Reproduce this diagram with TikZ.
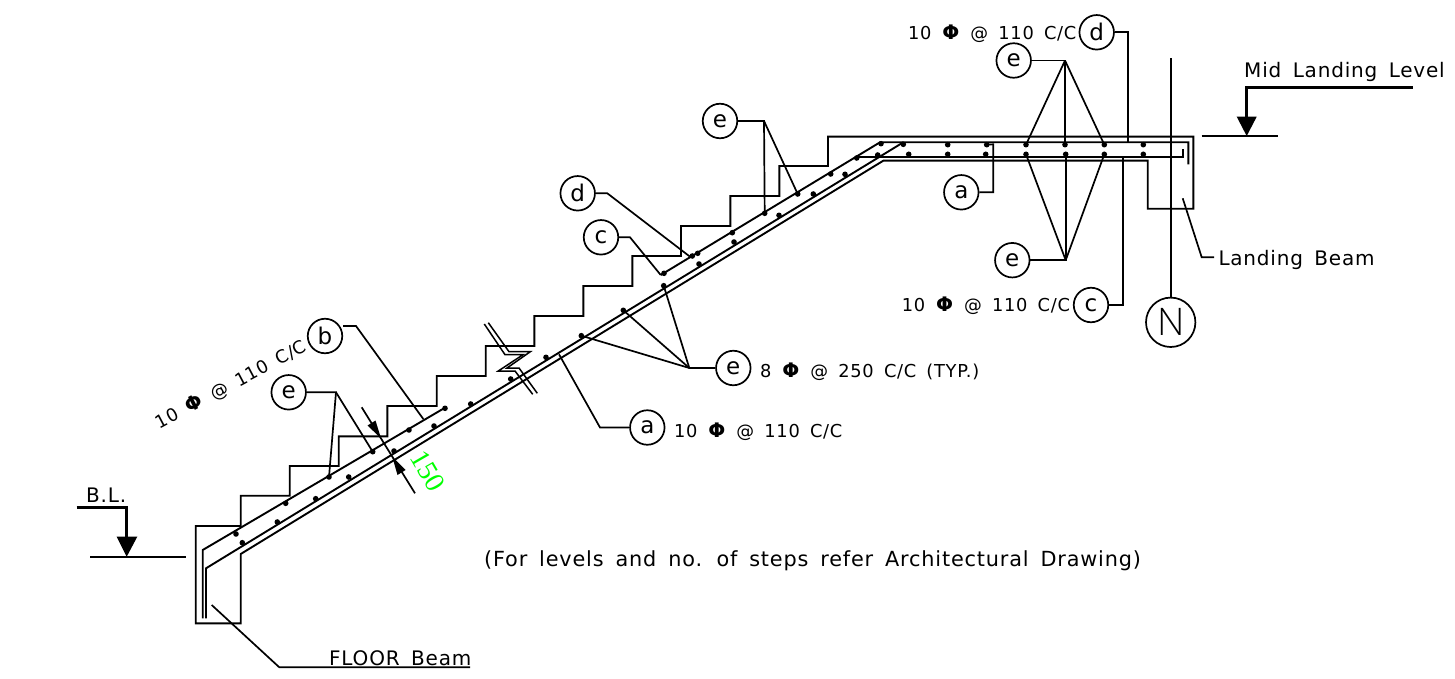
\documentclass[tikz,border=0pt]{standalone}
\usepackage{fontspec}
\setmainfont{DejaVu Sans}
\newfontfamily\cad[LetterSpace=4,WordSpace=1.6]{DejaVu Sans}
\newfontfamily\green{Liberation Serif}
\newfontfamily\lightfont{Open Sans Light}
\definecolor{dimgreen}{RGB}{0,255,0}
\newcommand{\dia}{{\fontsize{20}{20}\selectfont\textbf{Φ}}}
\tikzset{
  ln/.style={line width=1.9pt,line join=miter,black},
  thick lev/.style={line width=3.4pt,line join=miter},
  bub/.style={circle,draw,line width=1.7pt,minimum size=34.5pt,inner sep=0pt,font=\fontsize{23}{23}\selectfont},
  lbl/.style={inner sep=0pt,font=\cad\fontsize{17.8}{18}\selectfont},
  lbb/.style={inner sep=0pt,font=\cad\fontsize{20}{20}\selectfont},
  rebar/.style={circle,fill=black,minimum size=5.6pt,inner sep=0pt},
  lead/.style={line width=1.7pt,line join=miter}
}
\begin{document}
\begin{tikzpicture}[x=1pt,y=-1pt]
\useasboundingbox (0,0) rectangle (1455,679);
% concrete outline
\draw[ln] (195.7,526) -- (240.7,526) -- (240.7,495.7) -- (289.7,495.7) -- (289.7,466) -- (338.7,466) -- (338.7,436.3) -- (387.3,436.3) -- (387.3,406) -- (436.7,406) -- (436.7,376) -- (485.7,376) -- (485.7,346) -- (534.3,346) -- (534.3,316) -- (583.3,316) -- (583.3,286) -- (632.3,286) -- (632.3,256) -- (681,256) -- (681,226) -- (730.3,226) -- (730.3,196) -- (779.3,196) -- (779.3,166) -- (828,166) -- (828,136.7) -- (1193.3,136.7) -- (1193.3,208.7) -- (1147.7,208.7) -- (1147.7,160.7) -- (883.3,160.7) -- (240.7,554) -- (240.7,623.3) -- (195.7,623.3) -- cycle;
% reinforcement
\draw[ln] (202.7,618.3) -- (202.7,550) -- (446.7,406.7);
\draw[ln] (660.7,275) -- (880,142.3) -- (1188.3,142.3) -- (1188.3,164.3);
\draw[ln] (206,618.3) -- (206,568.3) -- (903.3,142.3);
\draw[ln] (858.3,156.7) -- (1182.7,156.7) -- (1182.7,149);
% break line
\draw[line width=1.5pt] (488.3,322.7) -- (509,351.7) -- (530.3,351.7) -- (507,368) -- (519,368) -- (537.3,393.3);
\draw[line width=1.5pt] (484.3,324) -- (505,354.7) -- (523,354.7) -- (498.3,371) -- (515,371) -- (532.7,394.3);
% bars
\foreach \n/\p in {b1/{236,534},b2/{242.3,542.7},b3/{277.3,522},b4/{285.7,503.3},b5/{315.7,498.7},b6/{329,477},b7/{348.7,477},b8/{372.7,451.7},b9/{394,451},b10/{409,430},b11/{434,426},b12/{445,408.3},b13/{470.7,404},b14/{510.7,379},b15/{546,357.3},b16/{581.3,335.7},b17/{623.3,310.3},b18/{663.7,285.7},b19/{664,273.3},b20/{692.3,256},b21/{697.7,253.3},b22/{699,264},b23/{732.3,232.7},b24/{734,242},b25/{764.7,213.3},b26/{779,215.3},b27/{797.7,194},b28/{813.3,194},b29/{830.7,174},b30/{845,174.3},b31/{856.7,158},b32/{877.7,155},b33/{881,143.7},b34/{903.3,144.3},b35/{908.7,154.3},b36/{947.7,144.7},b37/{947.7,154.3},b38/{986.7,144.7},b39/{985.7,154.3},b40/{1026,144.7},b41/{1026,154.3},b42/{1065,144.7},b43/{1065.7,154.3},b44/{1104.3,144.7},b45/{1104.3,154.3},b46/{1143.3,144.7},b47/{1143.3,154.3}}
  \node[rebar] (\n) at (\p) {};
% bubbles
\node[bub] (eLow) at (288.7,392.3) {e};
\node[bub] (bLow) at (325,336) {b};
\node[bub] (aMid) at (647.3,427.5) {a};
\node[bub] (eMid) at (733.3,368) {e};
\node[bub] (cMid) at (601,237.3) {c};
\node[bub] (dMid) at (577.7,193.3) {d};
\node[bub] (eUp) at (720,121) {e};
\node[bub] (dTop) at (1096.7,32.3) {d};
\node[bub] (eTop) at (1013.7,60.5) {e};
\node[bub] (aRight) at (961.3,192.3) {a};
\node[bub] (eBot) at (1012.3,260.2) {e};
\node[bub] (cRight) at (1091,305) {c};
\node[bub,minimum size=49.4pt,font=\lightfont\fontsize{38}{38}\selectfont] (nMark) at (1170.7,322.3) {N};
% leaders
\coordinate (eLowK) at (336,392.3);
\draw[lead] (eLow) -- (eLowK) -- (b6.center);
\draw[lead] (eLowK) -- (b8.center);
\coordinate (bK) at (356,326);
\coordinate (bEnd) at (423.3,419);
\draw[lead] (bLow.east |- bK) -- (bK) -- (bEnd);
\coordinate (aK) at (600,427.5);
\coordinate (aEnd) at (559,354.3);
\draw[lead] (aMid) -- (aK) -- (aEnd);
\coordinate (eMidK) at (689.3,368);
\draw[lead] (eMid) -- (eMidK) -- (b16.center);
\draw[lead] (eMidK) -- (b17.center);
\draw[lead] (eMidK) -- (b18.center);
\coordinate (cK) at (630,237.3);
\coordinate (cEnd) at (660.7,275);
\draw[lead] (cMid) -- (cK) -- (cEnd);
\coordinate (dK) at (607.3,193.3);
\coordinate (dEnd) at (690,256.7);
\draw[lead] (dMid) -- (dK) -- (dEnd);
\coordinate (eUpK) at (764,121);
\draw[lead] (eUp) -- (eUpK) -- (b25.center);
\draw[lead] (eUpK) -- (b27.center);
\coordinate (dTopK) at (1128.3,32.3);
\coordinate (dTopE) at (1128.3,142.3);
\draw[lead] (dTop) -- (dTopK) -- (dTopE);
\coordinate (eTopK) at (1065,60.5);
\draw[lead] (eTop) -- (eTopK) -- (b42.center);
\draw[lead] (eTopK) -- (b40.center);
\draw[lead] (eTopK) -- (b44.center);
\coordinate (aRK) at (993.3,192.3);
\coordinate (aRE) at (993.3,144.3);
\draw[lead] (aRight) -- (aRK) -- (aRE) -- (b38.center);
\coordinate (eBotK) at (1065.7,260.2);
\draw[lead] (eBot) -- (eBotK) -- (b43.center);
\draw[lead] (eBotK) -- (b41.center);
\draw[lead] (eBotK) -- (b45.center);
\coordinate (cRK) at (1122.7,305);
\coordinate (cRE) at (1122.7,156.7);
\draw[lead] (cRight) -- (cRK) -- (cRE);
\coordinate (nTop) at (1170.7,57.7);
\draw[lead] (nMark) -- (nTop);
% beam leaders
\coordinate (lbA) at (1182.7,198.3);
\coordinate (lbB) at (1201.7,257.3);
\coordinate (lbC) at (1214,257.3);
\draw[lead] (lbA) -- (lbB) -- (lbC);
\coordinate (fbA) at (211.7,605);
\coordinate (fbB) at (279.3,667.3);
\coordinate (fbC) at (470,667.3);
\draw[lead] (fbA) -- (fbB) -- (fbC);
% levels
\coordinate (blA) at (76.7,507.3);
\coordinate (blB) at (126.7,507.3);
\coordinate (blC) at (126.7,540);
\coordinate (blT) at (126.7,556.7);
\draw[thick lev] (blA) -- (blB) -- (blC);
\fill (blT) -- (116.7,536.7) -- (137.3,536.7) -- cycle;
\coordinate (blL) at (90,556.7);
\coordinate (blR) at (186,556.7);
\draw[lead] (blL) -- (blR);
\coordinate (mlA) at (1412.7,87.3);
\coordinate (mlB) at (1246.7,87.3);
\coordinate (mlC) at (1246.7,120);
\coordinate (mlT) at (1246.7,136);
\draw[thick lev] (mlA) -- (mlB) -- (mlC);
\fill (mlT) -- (1236.7,116.7) -- (1256.7,116.7) -- cycle;
\coordinate (mlL) at (1201.7,136);
\coordinate (mlR) at (1278.3,136);
\draw[lead] (mlL) -- (mlR);
% dimension
\coordinate (dimA) at (361.7,407.3);
\coordinate (dimB) at (415,493.3);
\draw[lead] (dimA) -- (dimB);
\fill (381,438.4) -- (375.5,420.5) -- (367.5,425.5) -- cycle;
\fill (392.2,456.6) -- (405.5,470) -- (397.5,475) -- cycle;
\node[inner sep=0pt,text=dimgreen,rotate=-60,font=\green\fontsize{28}{28}\selectfont] (dimT) at (427.5,470.7) {150};
% texts
\node[lbl,anchor=west] (t1) at (674,431.5) {10 \dia{} @ 110 C/C};
\node[lbl,anchor=west] (t2) at (760,371.5) {8 \dia{} @ 250 C/C (TYP.)};
\node[lbl,anchor=west] (t3) at (908,33.5) {10 \dia{} @ 110 C/C};
\node[lbl,anchor=west] (t4) at (901.7,306) {10 \dia{} @ 110 C/C};
\node[lbl,rotate=28] (t5) at (231,385) {10 \dia{} @ 110 C/C};
\node[lbb,anchor=west] (t6) at (1244,71.5) {Mid Landing Level};
\node[lbb,anchor=west] (t7) at (1218.3,259.5) {Landing Beam};
\node[lbb,anchor=west] (t8) at (329,658.5) {FLOOR Beam};
\node[lbb,anchor=west] (t9) at (86,495) {B.L.};
\node[lbb,anchor=west,font=\cad\fontsize{20.8}{20}\selectfont] (t10) at (484,561) {(For levels and no. of steps refer Architectural Drawing)};
\end{tikzpicture}
\end{document}
